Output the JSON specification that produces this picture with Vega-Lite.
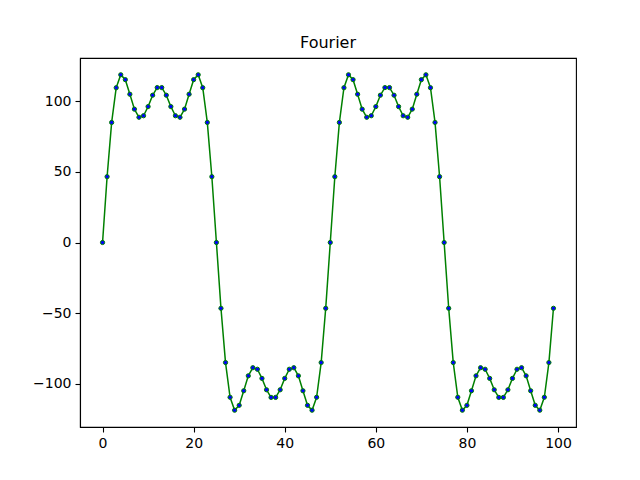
{
  "$schema": "https://vega.github.io/schema/vega-lite/v6.json",
  "width": 496,
  "height": 369,
  "autosize": {"type": "none"},
  "padding": {"left": 80, "top": 58, "right": 64, "bottom": 53},
  "background": "white",
  "title": {"text": "Fourier", "font": "DejaVu Sans", "fontSize": 16, "fontWeight": "normal", "color": "black", "offset": 7, "anchor": "middle"},
  "config": {
    "view": {"stroke": "black", "strokeWidth": 1.1},
    "axis": {"grid": false, "domainColor": "black", "domainWidth": 1.1, "tickColor": "black", "tickSize": 5, "tickWidth": 1.1, "labelFont": "DejaVu Sans", "labelFontSize": 14, "labelColor": "black", "labelPadding": 4, "title": null}
  },
  "data": {"values": [
    {"x":0,"y":0},{"x":1,"y":46.55},{"x":2,"y":84.93},{"x":3,"y":109.49},{"x":4,"y":118.66},{"x":5,"y":115.21},{"x":6,"y":104.89},{"x":7,"y":94.33},{"x":8,"y":88.6},{"x":9,"y":89.68},
    {"x":10,"y":96.15},{"x":11,"y":104.2},{"x":12,"y":109.6},{"x":13,"y":109.6},{"x":14,"y":104.2},{"x":15,"y":96.15},{"x":16,"y":89.68},{"x":17,"y":88.6},{"x":18,"y":94.33},{"x":19,"y":104.89},
    {"x":20,"y":115.21},{"x":21,"y":118.66},{"x":22,"y":109.49},{"x":23,"y":84.93},{"x":24,"y":46.55},{"x":25,"y":0},{"x":26,"y":-46.55},{"x":27,"y":-84.93},{"x":28,"y":-109.49},{"x":29,"y":-118.66},
    {"x":30,"y":-115.21},{"x":31,"y":-104.89},{"x":32,"y":-94.33},{"x":33,"y":-88.6},{"x":34,"y":-89.68},{"x":35,"y":-96.15},{"x":36,"y":-104.2},{"x":37,"y":-109.6},{"x":38,"y":-109.6},{"x":39,"y":-104.2},
    {"x":40,"y":-96.15},{"x":41,"y":-89.68},{"x":42,"y":-88.6},{"x":43,"y":-94.33},{"x":44,"y":-104.89},{"x":45,"y":-115.21},{"x":46,"y":-118.66},{"x":47,"y":-109.49},{"x":48,"y":-84.93},{"x":49,"y":-46.55},
    {"x":50,"y":0},{"x":51,"y":46.55},{"x":52,"y":84.93},{"x":53,"y":109.49},{"x":54,"y":118.66},{"x":55,"y":115.21},{"x":56,"y":104.89},{"x":57,"y":94.33},{"x":58,"y":88.6},{"x":59,"y":89.68},
    {"x":60,"y":96.15},{"x":61,"y":104.2},{"x":62,"y":109.6},{"x":63,"y":109.6},{"x":64,"y":104.2},{"x":65,"y":96.15},{"x":66,"y":89.68},{"x":67,"y":88.6},{"x":68,"y":94.33},{"x":69,"y":104.89},
    {"x":70,"y":115.21},{"x":71,"y":118.66},{"x":72,"y":109.49},{"x":73,"y":84.93},{"x":74,"y":46.55},{"x":75,"y":0},{"x":76,"y":-46.55},{"x":77,"y":-84.93},{"x":78,"y":-109.49},{"x":79,"y":-118.66},
    {"x":80,"y":-115.21},{"x":81,"y":-104.89},{"x":82,"y":-94.33},{"x":83,"y":-88.6},{"x":84,"y":-89.68},{"x":85,"y":-96.15},{"x":86,"y":-104.2},{"x":87,"y":-109.6},{"x":88,"y":-109.6},{"x":89,"y":-104.2},
    {"x":90,"y":-96.15},{"x":91,"y":-89.68},{"x":92,"y":-88.6},{"x":93,"y":-94.33},{"x":94,"y":-104.89},{"x":95,"y":-115.21},{"x":96,"y":-118.66},{"x":97,"y":-109.49},{"x":98,"y":-84.93},{"x":99,"y":-46.55}
  ]},
  "encoding": {
    "x": {"field": "x", "type": "quantitative", "scale": {"domain": [-4.95, 103.95], "nice": false, "zero": false}, "axis": {"values": [0, 20, 40, 60, 80, 100], "format": "d"}},
    "y": {"field": "y", "type": "quantitative", "scale": {"domain": [-130.53, 130.53], "nice": false, "zero": false}, "axis": {"values": [-100, -50, 0, 50, 100], "format": "d"}}
  },
  "layer": [
    {"mark": {"type": "line", "color": "#008000", "strokeWidth": 1.5}},
    {"mark": {"type": "point", "filled": true, "fill": "#0000ff", "stroke": "#008000", "strokeWidth": 1, "size": 18, "opacity": 1}}
  ]
}
